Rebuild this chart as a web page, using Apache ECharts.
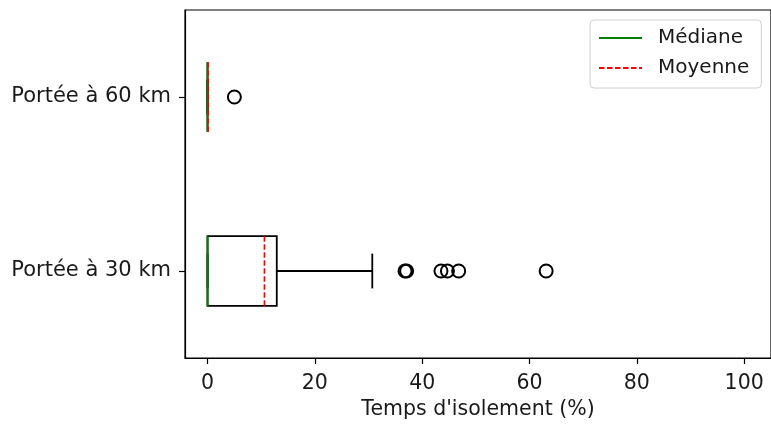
<!DOCTYPE html>
<html>
<head>
<meta charset="utf-8">
<script src="https://cdn.jsdelivr.net/npm/echarts@6/dist/echarts.min.js"></script>
<style>html,body{margin:0;padding:0;background:#fff;}#c{width:771px;height:425px;}</style>
</head>
<body>
<div id="c"></div>
<script>
const categories = ['Portée à 30 km', 'Portée à 60 km'];
const whiskerLow = [0, 0];
const q1 = [0, 0];
const median = [0, 0];
const q3 = [12.9, 0];
const whiskerHigh = [30.7, 0];
const mean = [10.6, 0.1];
const outliers30 = [36.8, 37.1, 43.5, 44.7, 46.8, 63.1];
const outliers60 = [5.0];
const xTicks = [0, 20, 40, 60, 80, 100];

const FONT = 'DejaVu Sans';
const boxData = categories.map((c, i) => [i, whiskerLow[i], q1[i], median[i], q3[i], whiskerHigh[i], mean[i]]);
const outlierData = outliers30.map(v => [v, 0]).concat(outliers60.map(v => [v, 1]));

const chart = echarts.init(document.getElementById('c'), null, {renderer: 'canvas'});
chart.setOption({
  animation: false,
  backgroundColor: '#fff',
  textStyle: {fontFamily: FONT},
  grid: {left: 185, top: 10, right: -5, bottom: 67, show: true, borderColor: '#000', borderWidth: 1.2, containLabel: false},
  legend: {
    orient: 'vertical', left: 590, top: 20,
    backgroundColor: '#fff', borderColor: '#d0d0d0', borderWidth: 1, borderRadius: 4,
    padding: [8, 12, 10, 8], itemWidth: 43, itemHeight: 14, itemGap: 10,
    textStyle: {fontSize: 20, color: '#1a1a1a', fontFamily: FONT, padding: [0, 0, 0, 11]},
    data: ['Médiane', 'Moyenne']
  },
  xAxis: {
    type: 'value', min: -4.2, max: 105,
    name: "Temps d'isolement (%)", nameLocation: 'middle', nameGap: 41,
    nameTextStyle: {fontSize: 20.5, color: '#1a1a1a', fontFamily: FONT},
    axisLine: {show: true, onZero: false, lineStyle: {color: '#000', width: 1.2}},
    axisTick: {show: true, length: 6, lineStyle: {color: '#000', width: 1.2}, customValues: xTicks},
    axisLabel: {fontSize: 20.5, color: '#1a1a1a', margin: 15, fontFamily: FONT, customValues: xTicks},
    splitLine: {show: false}
  },
  yAxis: {
    type: 'category', data: categories,
    axisLine: {show: true, onZero: false, lineStyle: {color: '#000', width: 1.2}},
    axisTick: {show: true, alignWithLabel: true, length: 6, lineStyle: {color: '#000', width: 1.2}},
    axisLabel: {fontSize: 21, color: '#1a1a1a', margin: 14, fontFamily: FONT},
    splitLine: {show: false}
  },
  series: [
    {
      type: 'custom', name: 'box', data: boxData,
      encode: {y: 0, x: [1, 2, 3, 4, 5, 6]},
      renderItem: function (params, api) {
        const ci = api.value(0);
        const band = api.size([0, 1])[1];
        const h = band * 0.4 / 2;
        const cap = h / 2;
        const p = (v) => api.coord([v, ci]);
        const lo = p(api.value(1)), a = p(api.value(2)), m = p(api.value(3)),
              b = p(api.value(4)), hi = p(api.value(5)), mu = p(api.value(6));
        const y = a[1];
        const blk = {stroke: '#000', lineWidth: 1.8, fill: null};
        return {
          type: 'group',
          children: [
            {type: 'line', shape: {x1: lo[0], y1: y, x2: a[0], y2: y}, style: blk},
            {type: 'line', shape: {x1: b[0], y1: y, x2: hi[0], y2: y}, style: blk},
            {type: 'line', shape: {x1: lo[0], y1: y - cap, x2: lo[0], y2: y + cap}, style: blk},
            {type: 'line', shape: {x1: hi[0], y1: y - cap, x2: hi[0], y2: y + cap}, style: blk},
            {type: 'rect', shape: {x: a[0], y: y - h, width: b[0] - a[0], height: 2 * h}, style: {stroke: '#000', lineWidth: 1.8, fill: 'none'}},
            {type: 'line', shape: {x1: m[0], y1: y - h, x2: m[0], y2: y + h}, style: {stroke: '#008000', lineWidth: 2}},
            {type: 'line', shape: {x1: mu[0], y1: y - h, x2: mu[0], y2: y + h}, style: {stroke: '#ff0000', lineWidth: 1.6, lineDash: [5.5, 2.5]}}
          ]
        };
      },
      z: 3
    },
    {
      type: 'scatter', name: 'outliers', data: outlierData,
      symbol: 'circle', symbolSize: 13,
      itemStyle: {color: 'rgba(0,0,0,0)', borderColor: '#000', borderWidth: 2, opacity: 1},
      z: 4
    },
    {
      type: 'line', name: 'Médiane', data: [], symbol: 'none', showSymbol: false,
      lineStyle: {color: '#008000', width: 1.8}, itemStyle: {color: 'rgba(0,0,0,0)', borderWidth: 0}
    },
    {
      type: 'line', name: 'Moyenne', data: [], symbol: 'none', showSymbol: false,
      lineStyle: {color: '#ff0000', width: 1.8, type: [5.5, 2.5]}, itemStyle: {color: 'rgba(0,0,0,0)', borderWidth: 0}
    }
  ]
});
</script>
</body>
</html>
